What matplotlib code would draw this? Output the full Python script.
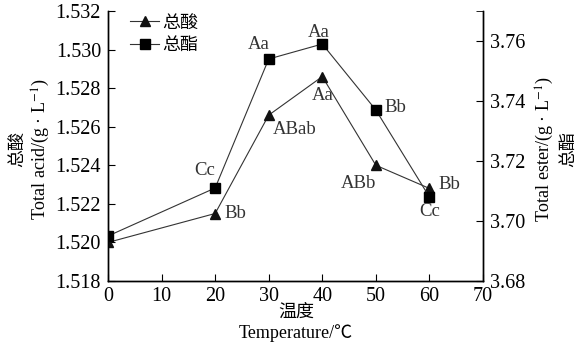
import matplotlib
matplotlib.use("Agg")
import matplotlib.pyplot as plt
from matplotlib.lines import Line2D

temperature = [0, 20, 30, 40, 50, 60]
total_acid = [1.5200, 1.5215, 1.5266, 1.5286, 1.5240, 1.5228]
total_ester = [3.695, 3.711, 3.754, 3.759, 3.737, 3.708]
acid_labels = ["", "Bb", "ABab", "Aa", "ABb", "Bb"]
ester_labels = ["", "Cc", "Aa", "Aa", "Bb", "Cc"]
acid_offsets = [(0, 0), (20, 0), (26, -14), (0, -19), (-17, -18), (20, 4)]
ester_offsets = [(0, 0), (-10, 18), (-10, 15), (-4, 12), (20, 3), (0, -15)]
x_ticks = [0, 10, 20, 30, 40, 50, 60, 70]
acid_ticks = [1.518, 1.520, 1.522, 1.524, 1.526, 1.528, 1.530, 1.532]
ester_ticks = [3.68, 3.70, 3.72, 3.74, 3.76]

serif = ["Liberation Serif", "Noto Sans CJK SC"]
cjk = ["Noto Sans CJK SC", "Liberation Serif"]
plt.rcParams['font.family'] = serif
plt.rcParams['mathtext.fontset'] = 'stix'

fig = plt.figure(figsize=(5.79, 3.5), dpi=100)
ax = fig.add_axes([108/579, 1-281/350, (483-108)/579, (281-11)/350])
ax2 = ax.twinx()

lc = '#333333'
ax.plot(temperature, total_acid, color=lc, lw=0.8, marker='^', ms=7, mfc='#111111', mec='#111111', zorder=3)
ax2.plot(temperature, total_ester, color=lc, lw=0.8, marker='s', ms=7, mfc='#000000', mec='#000000', zorder=3)

tc = '#333333'
for x, y, t, (dx, dy) in zip(temperature, total_acid, acid_labels, acid_offsets):
    if t:
        ax.annotate(t, (x, y), xytext=(dx, dy), textcoords='offset pixels',
                    ha='center', va='center', fontsize=13.5, color=tc)
for x, y, t, (dx, dy) in zip(temperature, total_ester, ester_labels, ester_offsets):
    if t:
        ax2.annotate(t, (x, y), xytext=(dx, dy), textcoords='offset pixels',
                     ha='center', va='center', fontsize=13.5, color=tc)

ax.set_xlim(0, 70)
ax.set_ylim(1.518, 1.532)
ax2.set_ylim(3.68, 3.77)
ax.set_xticks(x_ticks)
ax.set_yticks(acid_ticks)
ax.set_yticklabels([f"{v:.3f}" for v in acid_ticks])
ax2.set_yticks(ester_ticks)
ax2.set_yticklabels([f"{v:.2f}" for v in ester_ticks])
ax2.set_yticks([3.77], minor=True)
ax2.tick_params(axis='y', which='minor', direction='in', length=5)

for a in (ax, ax2):
    a.tick_params(direction='in', length=5, width=0.8, labelsize=14.5)
    for s in a.spines.values():
        s.set_linewidth(1.0)
ax.tick_params(axis='y', pad=5)
ax.tick_params(axis='x', pad=4)
ax2.tick_params(axis='y', pad=5)
ax.spines['top'].set_visible(False)
ax2.spines['top'].set_visible(False)

# axis labels
fig.text(296/579, 1-312/350, "温度", ha='center', va='center', fontsize=13, family=cjk)
fig.text(296/579, 1-333/350, "Temperature/℃", ha='center', va='center', fontsize=13, family=serif)
fig.text(17/579, 1-149/350, "总酸", ha='center', va='center', fontsize=13, rotation=90, family=cjk)
fig.text(41/579, 1-149/350, "Total acid/(g · L$^{-1}$)", ha='center', va='center', fontsize=13, rotation=90, family=serif)
fig.text(545/579, 1-149/350, "Total ester/(g · L$^{-1}$)", ha='center', va='center', fontsize=13, rotation=90, family=serif)
fig.text(568/579, 1-149/350, "总酯", ha='center', va='center', fontsize=13, rotation=90, family=cjk)

handles = [Line2D([], [], color=lc, lw=0.8, marker='^', ms=7, mfc='#111111', mec='#111111'),
           Line2D([], [], color=lc, lw=0.8, marker='s', ms=7, mfc='#000000', mec='#000000')]
leg = ax.legend(handles, ["总酸", "总酯"], loc='upper left', bbox_to_anchor=(0.03, 1.03),
                frameon=False, prop={'family': cjk, 'size': 13}, handlelength=1.6,
                handletextpad=0.2, labelspacing=0.25, borderaxespad=0.2)

fig.savefig("out.png", dpi=100)
